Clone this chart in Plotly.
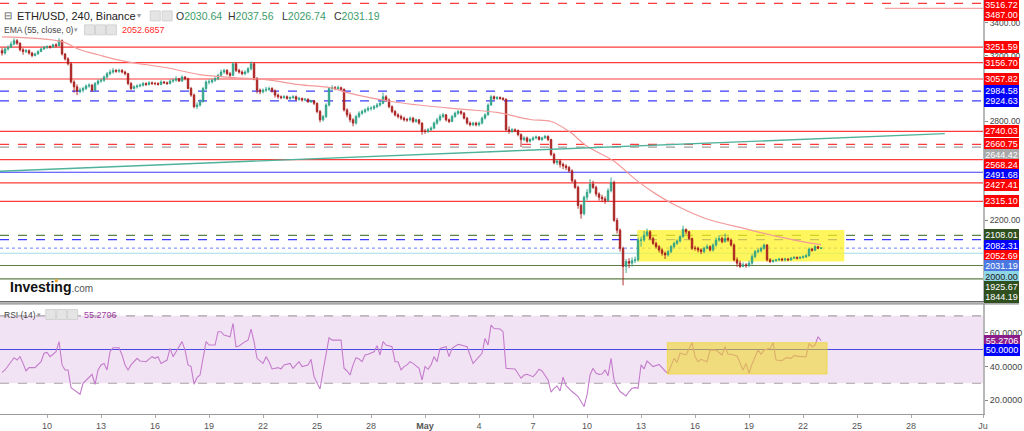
import plotly.graph_objects as go
import pandas as pd

# ======================= DATA =======================
first_bar = "2022-04-07 12:00"   # 4-hour bars (240)

opens = [
    3230, 3215, 3240,                                   # Apr 7
    3250, 3270, 3290, 3275, 3235, 3225,                 # Apr 8
    3230, 3215, 3200, 3210, 3225, 3240,                 # Apr 9
    3250, 3255, 3250, 3265, 3260, 3290,                 # Apr 10
    3210, 3180, 3150, 3040, 3010, 2985,                 # Apr 11
    2990, 3000, 3015, 3020, 2990, 3030,                 # Apr 12
    3045, 3050, 3070, 3090, 3100, 3110,                 # Apr 13
    3105, 3110, 3100, 3090, 3030, 3000,                 # Apr 14
    3010, 3015, 3020, 3030, 3025, 3035,                 # Apr 15
    3030, 3030, 3025, 3040, 3035, 3030,                 # Apr 16
    3045, 3050, 3060, 3045, 3070, 3060,                 # Apr 17
    3000, 2960, 2890, 2900, 2920, 3000,                 # Apr 18
    3040, 3040, 3050, 3060, 3080, 3100,                 # Apr 19
    3110, 3090, 3080, 3150, 3110, 3100,                 # Apr 20
    3090, 3100, 3120, 3150, 3060, 2990,                 # Apr 21
    2980, 2990, 2995, 3000, 2985, 2960,                 # Apr 22
    2950, 2945, 2950, 2940, 2945, 2950,                 # Apr 23
    2935, 2940, 2930, 2935, 2920, 2925,                 # Apr 24
    2910, 2860, 2810, 2830, 2900, 3000,                 # Apr 25
    3005, 3000, 3005, 2995, 2870, 2840,                 # Apr 26
    2810, 2790, 2830, 2850, 2860, 2870,                 # Apr 27
    2880, 2880, 2890, 2900, 2910, 2950,                 # Apr 28
    2930, 2890, 2860, 2840, 2830, 2820,                 # Apr 29
    2810, 2810, 2820, 2800, 2810, 2790,                 # Apr 30
    2740, 2740, 2750, 2760, 2790, 2810,                 # May 1
    2830, 2840, 2810, 2800, 2830, 2850,                 # May 2
    2860, 2850, 2820, 2790, 2780, 2790,                 # May 3
    2780, 2790, 2820, 2840, 2900, 2950,                 # May 4
    2940, 2945, 2940, 2935, 2750, 2740,                 # May 5
    2750, 2745, 2720, 2690, 2700, 2680,                 # May 6
    2690, 2700, 2705, 2690, 2700, 2710,                 # May 7
    2690, 2600, 2550, 2560, 2540, 2530,                 # May 8
    2520, 2500, 2440, 2400, 2290, 2240,                 # May 9
    2340, 2370, 2420, 2400, 2360, 2340,                 # May 10
    2330, 2320, 2380, 2430, 2200, 2140,                 # May 11
    2030, 1920, 1950, 1940, 1955, 1960,                 # May 12
    2080, 2080, 2110, 2130, 2090, 2060,                 # May 13
    2040, 2020, 2000, 1990, 2010, 2040,                 # May 14
    2060, 2075, 2100, 2145, 2130, 2090,                 # May 15
    2030, 2030, 2020, 2010, 2030, 2040,                 # May 16
    2020, 2050, 2080, 2090, 2070, 2090,                 # May 17
    2080, 2050, 1960, 1940, 1920, 1930,                 # May 18
    1925, 1940, 1980, 2010, 2015, 2030,                 # May 19
    2050, 1960, 1950, 1955, 1960, 1965,                 # May 20
    1960, 1965, 1960, 1970, 1975, 1970,                 # May 21
    1975, 1978, 1985, 2025, 2018, 2040,                 # May 22
    2030.64,                                            # May 23
]
highs = [
    3245, 3250, 3262,
    3285, 3305, 3300, 3280, 3245, 3240,
    3238, 3222, 3218, 3232, 3248, 3258,
    3262, 3262, 3272, 3275, 3305, 3298,
    3215, 3190, 3160, 3050, 3025, 3005,
    3010, 3025, 3032, 3028, 3040, 3055,
    3060, 3080, 3100, 3115, 3125, 3118,
    3120, 3118, 3108, 3095, 3040, 3020,
    3025, 3030, 3040, 3038, 3045, 3042,
    3040, 3038, 3050, 3046, 3042, 3055,
    3060, 3075, 3065, 3080, 3075, 3065,
    3010, 2970, 2915, 2935, 3010, 3050,
    3055, 3060, 3070, 3090, 3115, 3120,
    3118, 3100, 3160, 3158, 3120, 3110,
    3110, 3130, 3165, 3160, 3070, 3000,
    3000, 3010, 3012, 3008, 2995, 2970,
    2958, 2960, 2958, 2952, 2960, 2958,
    2950, 2945, 2942, 2940, 2932, 2930,
    2915, 2870, 2840, 2910, 3010, 3020,
    3015, 3018, 3012, 3000, 2880, 2855,
    2820, 2840, 2862, 2872, 2880, 2892,
    2892, 2900, 2912, 2925, 2975, 2960,
    2940, 2898, 2870, 2850, 2842, 2830,
    2822, 2830, 2828, 2818, 2815, 2795,
    2755, 2760, 2770, 2800, 2822, 2845,
    2852, 2845, 2818, 2840, 2860, 2870,
    2868, 2858, 2828, 2800, 2798, 2798,
    2800, 2830, 2850, 2910, 2960, 2958,
    2955, 2952, 2948, 2940, 2770, 2760,
    2758, 2752, 2728, 2710, 2708, 2698,
    2710, 2715, 2712, 2708, 2718, 2715,
    2695, 2610, 2570, 2572, 2550, 2540,
    2530, 2510, 2450, 2410, 2300, 2350,
    2390, 2450, 2440, 2410, 2370, 2355,
    2345, 2395, 2460, 2440, 2215, 2150,
    2040, 1965, 1970, 1975, 1980, 2095,
    2100, 2135, 2150, 2140, 2100, 2070,
    2050, 2030, 2010, 2020, 2050, 2070,
    2085, 2110, 2168, 2150, 2135, 2095,
    2045, 2040, 2030, 2040, 2055, 2048,
    2060, 2095, 2110, 2100, 2120, 2100,
    2090, 2060, 1975, 1955, 1945, 1940,
    1955, 1995, 2020, 2030, 2040, 2058,
    2055, 1970, 1962, 1965, 1970, 1972,
    1972, 1970, 1978, 1982, 1980, 1982,
    1988, 1995, 2035, 2032, 2048, 2045,
    2037.56,
]
lows = [
    3200, 3205, 3230,
    3245, 3262, 3265, 3225, 3205, 3215,
    3205, 3190, 3195, 3205, 3220, 3235,
    3240, 3242, 3245, 3250, 3255, 3200,
    3170, 3140, 3030, 2975, 2960, 2970,
    2975, 2990, 3005, 2980, 2985, 3020,
    3035, 3040, 3060, 3080, 3090, 3095,
    3095, 3092, 3080, 3020, 2990, 2995,
    3000, 3008, 3012, 3015, 3018, 3022,
    3020, 3018, 3020, 3028, 3022, 3025,
    3035, 3042, 3040, 3040, 3050, 2995,
    2950, 2880, 2875, 2890, 2915, 2990,
    3025, 3030, 3040, 3050, 3070, 3090,
    3080, 3070, 3075, 3100, 3090, 3080,
    3080, 3092, 3110, 3050, 2970, 2965,
    2970, 2978, 2985, 2975, 2945, 2938,
    2935, 2938, 2932, 2930, 2936, 2925,
    2925, 2920, 2922, 2912, 2912, 2900,
    2850, 2795, 2800, 2820, 2890, 2985,
    2990, 2990, 2985, 2860, 2825, 2795,
    2770, 2780, 2820, 2840, 2850, 2860,
    2865, 2870, 2880, 2890, 2905, 2920,
    2880, 2850, 2830, 2818, 2808, 2800,
    2798, 2800, 2790, 2792, 2780, 2720,
    2725, 2730, 2742, 2752, 2780, 2800,
    2820, 2800, 2790, 2795, 2822, 2840,
    2840, 2812, 2780, 2770, 2772, 2770,
    2770, 2782, 2812, 2835, 2895, 2930,
    2930, 2932, 2925, 2740, 2725, 2730,
    2735, 2710, 2645, 2680, 2670, 2672,
    2682, 2692, 2685, 2682, 2695, 2680,
    2590, 2540, 2535, 2520, 2510, 2505,
    2490, 2430, 2390, 2270, 2210, 2230,
    2320, 2360, 2390, 2345, 2320, 2310,
    2300, 2310, 2370, 2190, 2120, 2010,
    1805, 1880, 1910, 1920, 1940, 1950,
    2040, 2070, 2100, 2080, 2050, 2030,
    2005, 1985, 1965, 1980, 2000, 2030,
    2050, 2065, 2095, 2115, 2080, 2020,
    2015, 2005, 1995, 2000, 2025, 2010,
    2010, 2040, 2070, 2060, 2065, 2070,
    2040, 1950, 1918, 1910, 1915, 1912,
    1915, 1930, 1970, 2000, 2005, 2022,
    1950, 1940, 1942, 1948, 1952, 1950,
    1950, 1952, 1955, 1965, 1962, 1965,
    1968, 1972, 1980, 2010, 2015, 2025,
    2026.74,
]
closes = [
    3215, 3240, 3250,
    3270, 3290, 3275, 3235, 3225, 3230,
    3215, 3200, 3210, 3225, 3240, 3250,
    3255, 3250, 3265, 3260, 3290, 3210,
    3180, 3150, 3040, 3010, 2985, 2990,
    3000, 3015, 3020, 2990, 3030, 3045,
    3050, 3070, 3090, 3100, 3110, 3105,
    3110, 3100, 3090, 3030, 3000, 3010,
    3015, 3020, 3030, 3025, 3035, 3030,
    3030, 3025, 3040, 3035, 3030, 3045,
    3050, 3060, 3045, 3070, 3060, 3000,
    2960, 2890, 2900, 2920, 3000, 3040,
    3040, 3050, 3060, 3080, 3100, 3110,
    3090, 3080, 3150, 3110, 3100, 3090,
    3100, 3120, 3150, 3060, 2990, 2980,
    2990, 2995, 3000, 2985, 2960, 2950,
    2945, 2950, 2940, 2945, 2950, 2935,
    2940, 2930, 2935, 2920, 2925, 2910,
    2860, 2810, 2830, 2900, 3000, 3005,
    3000, 3005, 2995, 2870, 2840, 2810,
    2790, 2830, 2850, 2860, 2870, 2880,
    2880, 2890, 2900, 2910, 2950, 2930,
    2890, 2860, 2840, 2830, 2820, 2810,
    2810, 2820, 2800, 2810, 2790, 2740,
    2740, 2750, 2760, 2790, 2810, 2830,
    2840, 2810, 2800, 2830, 2850, 2860,
    2850, 2820, 2790, 2780, 2790, 2780,
    2790, 2820, 2840, 2900, 2950, 2940,
    2945, 2940, 2935, 2750, 2740, 2750,
    2745, 2720, 2690, 2700, 2680, 2690,
    2700, 2705, 2690, 2700, 2710, 2690,
    2600, 2550, 2560, 2540, 2530, 2520,
    2500, 2440, 2400, 2290, 2240, 2340,
    2370, 2420, 2400, 2360, 2340, 2330,
    2320, 2380, 2430, 2200, 2140, 2030,
    1920, 1950, 1940, 1955, 1960, 2080,
    2080, 2110, 2130, 2090, 2060, 2040,
    2020, 2000, 1990, 2010, 2040, 2060,
    2075, 2100, 2145, 2130, 2090, 2030,
    2030, 2020, 2010, 2030, 2040, 2020,
    2050, 2080, 2090, 2070, 2090, 2080,
    2050, 1960, 1940, 1920, 1930, 1925,
    1940, 1980, 2010, 2015, 2030, 2050,
    1960, 1950, 1955, 1960, 1965, 1960,
    1965, 1960, 1970, 1975, 1970, 1975,
    1978, 1985, 2025, 2018, 2040, 2030.64,
    2031.19,
]

# EMA(55) read at selected bars (bar index, value)
ema_idx = [0, 20, 26, 32, 41, 55, 66, 77, 88, 99, 110, 115, 132, 154, 165, 176,
           183, 189, 195, 204, 211, 218, 225, 235, 248, 259, 269, 273]
ema_vals = [3314, 3285, 3235, 3205, 3165, 3126, 3084, 3066, 3054, 3024, 3003, 2975,
            2915, 2873, 2855, 2812, 2800, 2740, 2649, 2559, 2450, 2359, 2287, 2208,
            2148, 2099, 2063, 2052.6857]

# RSI(14) read at bars (bar index, value)
rsi_idx = [0, 1, 3, 4, 5, 6, 7, 8, 9, 11, 13, 14, 15, 16, 17, 18, 19, 20, 21, 22, 23, 25,
           26, 27, 29, 30, 31, 32, 33, 34, 35, 36, 37, 39, 40, 41, 42, 43, 45, 46, 48, 50,
           51, 52, 53, 55, 56, 57, 58, 60, 61, 62, 63, 64, 65, 66, 68, 69, 71, 72, 73, 74,
           76, 77, 78, 79, 81, 82, 83, 84, 85, 87, 88, 89, 90, 92, 93, 94, 96, 97, 99, 100,
           102, 103, 104, 106, 107, 109, 110, 113, 114, 115, 116, 117, 118, 119, 120, 121,
           122, 124, 125, 126, 127, 128, 130, 131, 132, 133, 134, 135, 136, 137, 139, 140,
           141, 142, 143, 144, 145, 146, 148, 149, 150, 152, 153, 155, 157, 158, 160, 161,
           162, 163, 164, 166, 167, 168, 170, 171, 173, 174, 175, 177, 178, 179, 180, 182,
           183, 184, 185, 186, 187, 188, 190, 192, 194, 195, 196, 197, 198, 199, 200, 201,
           202, 203, 204, 205, 206, 208, 209, 210, 211, 212, 213, 214, 215, 216, 217, 219,
           220, 221, 222, 224, 225, 226, 228, 229, 230, 231, 232, 233, 235, 236, 238, 240,
           241, 242, 243, 245, 246, 247, 248, 249, 250, 252, 253, 254, 256, 257, 258, 259,
           260, 261, 262, 263, 264, 266, 268, 269, 270, 271, 272, 273]
rsi_vals = [36.5, 37.9, 42.8, 45.2, 43.8, 45.8, 41.8, 37.3, 39.3, 39.3, 42.8, 47.8, 48.3,
            45.8, 47.2, 48.7, 54.7, 40.9, 37.9, 37.9, 27.4, 24.7, 23.5, 30.0, 33.9, 35.3,
            29.4, 37.9, 40.9, 41.8, 37.9, 48.7, 51.1, 51.1, 46.8, 40.9, 37.9, 40.9, 44.8,
            43.2, 42.8, 45.8, 44.8, 45.8, 41.8, 43.8, 50.7, 45.8, 48.7, 54.7, 49.7, 40.9,
            39.9, 29.4, 33.4, 34.9, 54.7, 52.7, 52.7, 60.6, 60.6, 58.6, 57.6, 65.5, 51.7,
            52.1, 54.7, 55.6, 62.2, 54.7, 44.8, 41.8, 45.8, 42.8, 38.5, 39.3, 38.5, 40.9,
            41.8, 38.9, 42.8, 39.9, 40.9, 44.2, 33.9, 26.6, 37.3, 57.0, 55.6, 55.6, 38.9,
            37.3, 34.9, 40.9, 45.2, 44.4, 42.8, 46.8, 47.2, 48.7, 52.3, 46.8, 54.7, 52.7,
            51.7, 42.8, 42.8, 37.9, 39.9, 40.9, 42.8, 41.8, 38.9, 32.0, 39.9, 38.3, 40.9,
            45.8, 42.8, 50.7, 51.7, 45.8, 50.7, 53.1, 52.7, 51.7, 41.8, 43.8, 47.8, 56.6,
            52.7, 64.5, 62.5, 62.2, 60.6, 38.9, 38.9, 38.5, 33.0, 34.9, 35.3, 33.9, 35.9,
            38.3, 37.3, 32.0, 24.7, 27.0, 28.4, 25.5, 33.6, 28.6, 25.1, 22.1, 16.2, 23.1,
            34.9, 38.9, 35.9, 35.3, 35.5, 37.9, 34.5, 44.8, 32.0, 28.0, 25.1, 22.5, 25.1,
            27.0, 27.4, 27.0, 40.9, 38.5, 43.2, 41.8, 39.9, 41.2, 38.9, 37.3, 35.9, 44.8,
            42.4, 47.8, 46.8, 50.7, 54.1, 45.8, 42.8, 44.2, 42.8, 49.7, 49.7, 46.8, 51.7,
            47.2, 47.2, 46.2, 41.8, 37.9, 41.8, 35.9, 41.4, 49.7, 47.2, 49.7, 50.7, 54.1,
            43.8, 43.8, 43.4, 44.8, 45.2, 44.8, 46.4, 45.8, 45.8, 53.7, 51.7, 52.7, 57.6,
            55.2706]

# horizontal price levels drawn on the chart
level_prices = [3516.72, 3487.00, 3251.59, 3156.70, 3057.82, 2984.58, 2924.63, 2740.03,
                2660.75, 2644.42, 2568.24, 2491.68, 2427.41, 2315.10, 2108.01, 2082.31,
                2000.00, 1925.67, 1844.19]

trend_times = ["2022-04-07 09:17", "2022-05-29 21:00"]
trend_prices = [2498, 2726]

box_times = ["2022-05-12 19:00", "2022-05-24 07:00"]
box_prices = [1950, 2141.6]
rsi_box_times = ["2022-05-14 11:00", "2022-05-23 08:00"]
rsi_box_vals = [35.5, 54.1]

rsi_levels = [30, 50, 70]

xtick_dates = ["2022-04-10", "2022-04-13", "2022-04-16", "2022-04-19", "2022-04-22",
               "2022-04-25", "2022-04-28", "2022-05-01", "2022-05-04", "2022-05-07",
               "2022-05-10", "2022-05-13", "2022-05-16", "2022-05-19", "2022-05-22",
               "2022-05-25", "2022-05-28", "2022-06-01"]
xtick_text = ["10", "13", "16", "19", "22", "25", "28", "<b>May</b>", "4", "7", "10", "13",
              "16", "19", "22", "25", "28", "Ju"]
price_ticks = [2200, 2800, 3200, 3400]
rsi_ticks = [20, 40, 60]

# ======================= STYLE / LAYOUT =======================
W, H = 1024, 431
FONT = "Liberation Sans, Arial, sans-serif"
UP, DN = "#2fa488", "#a91e1e"
RED, BLUE, GREEN, GRAY = "#ff3b3b", "#3b3bff", "#5b7f45", "#a0a0a0"

level_style = [  # (line color, dash, label bg, label text color, line start in x-domain)
    (RED, "dash", "#ff0000", "white", 0),
    ("#f6a5a5", "solid", "#ff0000", "white", 0.9),
    (RED, "solid", "#ff0000", "white", 0),
    (RED, "solid", "#ff0000", "white", 0),
    (RED, "solid", "#ff0000", "white", 0),
    (BLUE, "dash", "#0000ff", "white", 0),
    (BLUE, "dash", "#0000ff", "white", 0),
    (RED, "solid", "#ff0000", "white", 0),
    (RED, "dash", "#ff0000", "white", 0),
    (GRAY, "dash", "#a8a8a8", "white", 0),
    (RED, "solid", "#ff0000", "white", 0),
    (BLUE, "solid", "#0000ff", "white", 0),
    (RED, "solid", "#ff0000", "white", 0),
    (RED, "solid", "#ff0000", "white", 0),
    (GREEN, "dash", "#2f4f1f", "white", 0),
    (BLUE, "dash", "#0000ff", "white", 0),
    ("#9fdbe8", "solid", "#8fd6e6", "#1a1a1a", 0),
    (GREEN, "solid", "#2f4f1f", "white", 0),
    (GREEN, "solid", "#2f4f1f", "white", 0),
]

main_top, main_bot = 0.0, 303.0          # px
rsi_top, rsi_bot = 305.5, 415.7          # px
plot_right = 988.0                       # px
y_range = [1706.6, 3537.3]
rsi_range = [11.9, 77.0]
x_range = ["2022-04-07 09:17", "2022-06-01 00:10"]


def pxx(x):
    return x / W


def pxy(y):
    return 1 - y / H


bar_times = pd.date_range(first_bar, periods=len(closes), freq="4h")

fig = go.Figure()

fig.add_trace(go.Candlestick(
    x=bar_times, open=opens, high=highs, low=lows, close=closes,
    increasing=dict(line=dict(color=UP, width=0.9), fillcolor=UP),
    decreasing=dict(line=dict(color=DN, width=0.9), fillcolor=DN),
    whiskerwidth=0, xaxis="x", yaxis="y", hoverinfo="skip", showlegend=False))

fig.add_trace(go.Scatter(
    x=bar_times[ema_idx], y=ema_vals, mode="lines", line_shape="spline",
    line=dict(color="#f39a9a", width=1.2), xaxis="x", yaxis="y",
    hoverinfo="skip", showlegend=False))

fig.add_trace(go.Scatter(
    x=trend_times, y=trend_prices, mode="lines",
    line=dict(color="#4fb29a", width=1.4), xaxis="x", yaxis="y",
    hoverinfo="skip", showlegend=False))

fig.add_trace(go.Scatter(
    x=bar_times[rsi_idx], y=rsi_vals, mode="lines",
    line=dict(color="#c47ccc", width=1.1), xaxis="x2", yaxis="y2",
    hoverinfo="skip", showlegend=False))

shapes = []
# main yellow box (below candles)
shapes.append(dict(type="rect", xref="x", yref="y", x0=box_times[0], x1=box_times[1],
                   y0=box_prices[0], y1=box_prices[1], fillcolor="rgba(255,243,30,0.72)",
                   line=dict(width=0), layer="below"))
# horizontal levels
for p, (lc, dash, _, _, xs) in zip(level_prices, level_style):
    shapes.append(dict(type="line", xref="x domain", yref="y", x0=xs, x1=1, y0=p, y1=p,
                       line=dict(color=lc, width=1.2, dash=dash), layer="below"))
# current price line
shapes.append(dict(type="line", xref="x domain", yref="y", x0=0, x1=1,
                   y0=closes[-1], y1=closes[-1],
                   line=dict(color="#6b7dff", width=1, dash="dot"), layer="below"))
# RSI band and levels
shapes.append(dict(type="rect", xref="x2 domain", yref="y2", x0=0, x1=1,
                   y0=rsi_levels[0], y1=rsi_levels[2], fillcolor="#f2e3f4",
                   line=dict(width=0), layer="below"))
for lv, col, dash in zip(rsi_levels, ["#a8a0a8", "#4747e6", "#a8a0a8"], ["dash", "solid", "dash"]):
    shapes.append(dict(type="line", xref="x2 domain", yref="y2", x0=0, x1=1, y0=lv, y1=lv,
                       line=dict(color=col, width=1.1, dash=dash), layer="below"))
# RSI yellow box (above line)
shapes.append(dict(type="rect", xref="x2", yref="y2", x0=rsi_box_times[0], x1=rsi_box_times[1],
                   y0=rsi_box_vals[0], y1=rsi_box_vals[1], fillcolor="rgba(238,215,25,0.55)",
                   line=dict(color="rgba(238,215,25,0.6)", width=1), layer="above"))
# pane separator
for yy, c, w in [(303.2, "#6e6e6e", 1.6), (305.2, "#8a8a8a", 1.2)]:
    shapes.append(dict(type="line", xref="paper", yref="paper", x0=0, x1=1,
                       y0=pxy(yy), y1=pxy(yy), line=dict(color=c, width=w)))
# small header icons
for (x0, x1, y0, y1) in [(151, 161, 11, 21), (163, 173, 11, 21),
                         (85, 95, 25, 35), (96, 106, 25, 35), (107, 117, 25, 35),
                         (46, 56, 311, 321), (57, 67, 311, 321), (68, 78, 311, 321)]:
    shapes.append(dict(type="rect", xref="paper", yref="paper", x0=pxx(x0), x1=pxx(x1),
                       y0=pxy(y1), y1=pxy(y0), fillcolor="#e4e4e4",
                       line=dict(color="#d2d2d2", width=1)))
# orange dot of the logo's "i"
shapes.append(dict(type="circle", xref="paper", yref="paper", x0=pxx(55), x1=pxx(58.2),
                   y0=pxy(283.6), y1=pxy(280.4), fillcolor="#f5a623",
                   line=dict(width=0)))

annotations = []


def label(x, y, text, size, color, anchor="left", **kw):
    annotations.append(dict(x=pxx(x), y=pxy(y), xref="paper", yref="paper", text=text,
                            showarrow=False, xanchor=anchor, yanchor="middle", borderpad=0,
                            font=dict(family=FONT, size=size, color=color), **kw))


# header texts
label(3, 16, "⊟", 10, "#555")
label(16, 16, "ETH/USD, 240, Binance", 11, "#222")
label(137, 16, "▾", 8, "#999")
for x, letter, val in [(176, "O", opens[-1]), (228, "H", highs[-1]),
                       (282, "L", lows[-1]), (335, "C", closes[-1])]:
    label(x, 16, f"{letter}<span style='color:#3d9c6a'>{val:.2f}</span>", 10.5, "#333")
label(3, 30, "EMA (55, close, 0)", 8.5, "#444")
label(73, 30, "▾", 7, "#999")
label(122, 30, f"{ema_vals[-1]:.4f}", 9, "#ff2a2a")
label(3, 316, "RSI (14)", 8.5, "#444")
label(36, 316, "▾", 7, "#999")
label(83, 316, f"{rsi_vals[-1]:.4f}", 9, "#a03ca0")
# logo
label(9, 288, "<b>Investing</b><span style='font-size:10px;color:#555'>.com</span>",
      14, "#111")

# right-side value labels with overlap avoidance
lab = []
for p, (_, _, bg, fg, _) in zip(level_prices, level_style):
    lab.append((p, f"{p:.2f}", bg, fg))
lab.append((ema_vals[-1], f"{ema_vals[-1]:.2f}", "#ff0000", "white"))
lab.append((closes[-1], f"{closes[-1]:.2f}", "#4a78e0", "white"))


def price_to_px(p):
    return main_top + (y_range[1] - p) / (y_range[1] - y_range[0]) * (main_bot - main_top)


lab.sort(key=lambda t: -t[0])
prev = None
for p, txt, bg, fg in lab:
    y0 = price_to_px(p)
    y = max(y0, 5.0)
    if prev is not None:
        y = max(y, prev + 10.3)
    prev = y
    annotations.append(dict(x=pxx(plot_right + 1), y=p, xref="paper", yref="y", text=txt,
                            showarrow=False, xanchor="left", yanchor="middle",
                            yshift=-(y - y0), width=33, height=9.5, borderpad=0,
                            bgcolor=bg, bordercolor=bg,
                            font=dict(family=FONT, size=9, color=fg)))

for v, txt, bg in [(rsi_vals[-1], f"{rsi_vals[-1]:.4f}", "#8b1d8b"),
                   (rsi_levels[1], f"{rsi_levels[1]:.4f}", "#0000ff")]:
    annotations.append(dict(x=pxx(plot_right + 1), y=v, xref="paper", yref="y2", text=txt,
                            showarrow=False, xanchor="left", yanchor="middle",
                            width=34, height=10, borderpad=0, bgcolor=bg, bordercolor=bg,
                            font=dict(family=FONT, size=9, color="white")))

fig.update_layout(
    width=W, height=H, margin=dict(l=0, r=0, t=0, b=0),
    paper_bgcolor="white", plot_bgcolor="white", showlegend=False,
    font=dict(family=FONT, size=9, color="#444"),
    shapes=shapes, annotations=annotations, hovermode=False,
    xaxis=dict(domain=[0, plot_right / W], range=x_range, type="date",
               showticklabels=False, showgrid=False, zeroline=False,
               rangeslider=dict(visible=False), anchor="y"),
    yaxis=dict(domain=[pxy(main_bot), pxy(main_top)], range=y_range, side="right",
               anchor="x", tickvals=price_ticks, ticktext=[f"{t:.2f}" for t in price_ticks],
               ticks="outside", ticklen=3, tickcolor="#888", showgrid=False, zeroline=False,
               showline=True, linecolor="#b8b8b8", linewidth=1.5,
               tickfont=dict(size=8.5, color="#444", family=FONT)),
    xaxis2=dict(domain=[0, plot_right / W], range=x_range, type="date", matches="x",
                anchor="y2", tickvals=xtick_dates, ticktext=xtick_text,
                ticks="outside", ticklen=3, tickcolor="#aaa", showgrid=False,
                zeroline=False, showline=True, linecolor="#9a9a9a", linewidth=1,
                tickfont=dict(size=9, color="#555", family=FONT)),
    yaxis2=dict(domain=[pxy(rsi_bot), pxy(rsi_top)], range=rsi_range, side="right",
                anchor="x2", tickvals=rsi_ticks, ticktext=[f"{t:.4f}" for t in rsi_ticks],
                ticks="outside", ticklen=3, tickcolor="#888", showgrid=False,
                zeroline=False, showline=True, linecolor="#b8b8b8", linewidth=1.5,
                tickfont=dict(size=9, color="#444", family=FONT)),
)

fig.write_html("out.html")
